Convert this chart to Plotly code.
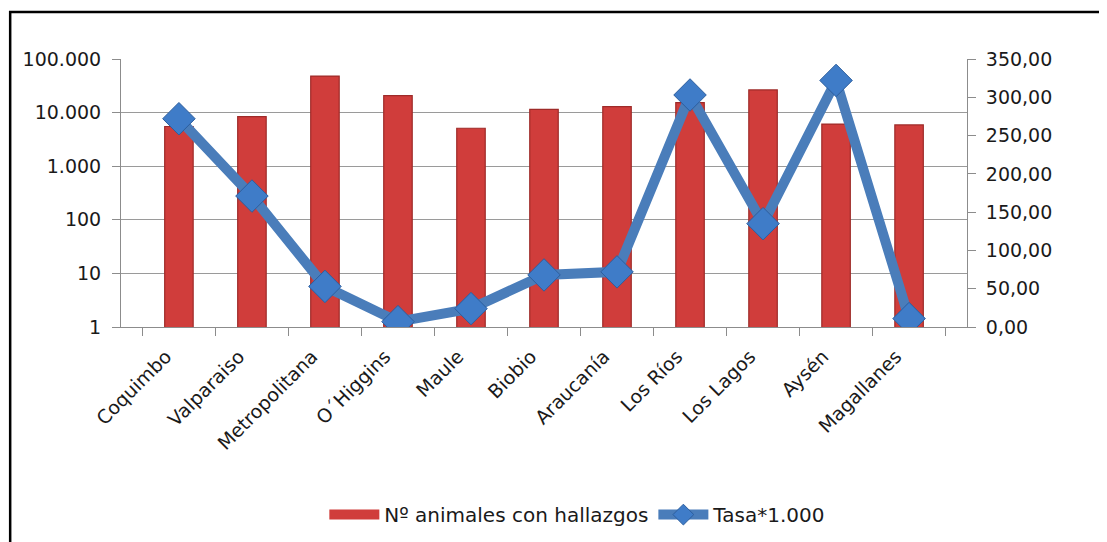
import plotly.graph_objects as go

regions = ["Coquimbo", "Valparaiso", "Metropolitana", "O´Higgins", "Maule", "Biobio",
           "Araucanía", "Los Ríos", "Los Lagos", "Aysén", "Magallanes"]
animales = [5500, 8400, 48000, 20700, 5100, 11500, 12900, 15300, 26500, 6100, 5900]
tasa = [272, 171, 53, 7, 24, 68, 72, 303, 135, 322, 11]

left_ticks = [1, 10, 100, 1000, 10000, 100000]
left_labels = ["1", "10", "100", "1.000", "10.000", "100.000"]
right_ticks = [0, 50, 100, 150, 200, 250, 300, 350]
right_labels = ["0,00", "50,00", "100,00", "150,00", "200,00", "250,00", "300,00", "350,00"]

FONT = "DejaVu Sans, Arial, sans-serif"
AXIS_CLR = "#8C8C8C"
BAR_CLR = "#D03D3B"
BAR_EDGE = "#9E2B29"

fig = go.Figure()
fig.add_trace(
    go.Bar(
        x=regions,
        y=animales,
        name="Nº animales con hallazgos",
        width=0.39,
        marker=dict(color=BAR_CLR, line=dict(color=BAR_EDGE, width=1.2)),
        yaxis="y",
        showlegend=False,
    )
)
# legend entry for the bars, drawn as a wide block like the original
fig.add_trace(
    go.Scatter(
        x=[None],
        y=[None],
        name="Nº animales con hallazgos",
        mode="lines",
        line=dict(color=BAR_CLR, width=12),
        yaxis="y",
    )
)
fig.add_trace(
    go.Scatter(
        x=regions,
        y=tasa,
        name="Tasa*1.000",
        mode="lines+markers",
        line=dict(color="#4A7DBA", width=10),
        marker=dict(symbol="diamond", size=25, color="#3F7CC8",
                    line=dict(color="#2C5E9E", width=1)),
        yaxis="y2",
    )
)

# page body adds an 8px offset, so margins are shifted accordingly
fig.update_layout(
    width=1107,
    height=542,
    margin=dict(l=113, r=148, t=51, b=223, autoexpand=False),
    plot_bgcolor="white",
    paper_bgcolor="white",
    font=dict(family=FONT, size=19, color="#1A1A1A"),
    showlegend=True,
    legend=dict(orientation="h", x=0.54, xanchor="center", y=-0.70, yanchor="middle",
                font=dict(size=20), itemwidth=50, traceorder="normal"),
    xaxis=dict(
        type="category", automargin=False,
        showline=True, linecolor=AXIS_CLR, linewidth=1,
        ticks="outside", tickson="boundaries", ticklen=8, tickcolor=AXIS_CLR,
        tickangle=-45, showgrid=False, ticklabelshift=-13, ticklabelstandoff=10,
    ),
    yaxis=dict(
        type="log", range=[0, 5], automargin=False,
        tickvals=left_ticks, ticktext=left_labels,
        showline=True, linecolor=AXIS_CLR, linewidth=1,
        ticks="outside", ticklen=8, tickcolor=AXIS_CLR, ticklabelstandoff=7,
        showgrid=True, gridcolor="#9A9A9A", gridwidth=1,
        zeroline=False,
    ),
    yaxis2=dict(
        overlaying="y", side="right", range=[0, 350], automargin=False,
        tickvals=right_ticks, ticktext=right_labels,
        showline=True, linecolor=AXIS_CLR, linewidth=1,
        ticks="outside", ticklen=8, tickcolor=AXIS_CLR, ticklabelstandoff=6,
        showgrid=False, zeroline=False,
    ),
    shapes=[
        dict(type="rect", xref="paper", yref="paper",
             x0=-0.131, x1=1.2, y0=-0.9, y1=1.175,
             line=dict(color="black", width=2.5), layer="above"),
    ],
)

fig.write_html("out.html")
